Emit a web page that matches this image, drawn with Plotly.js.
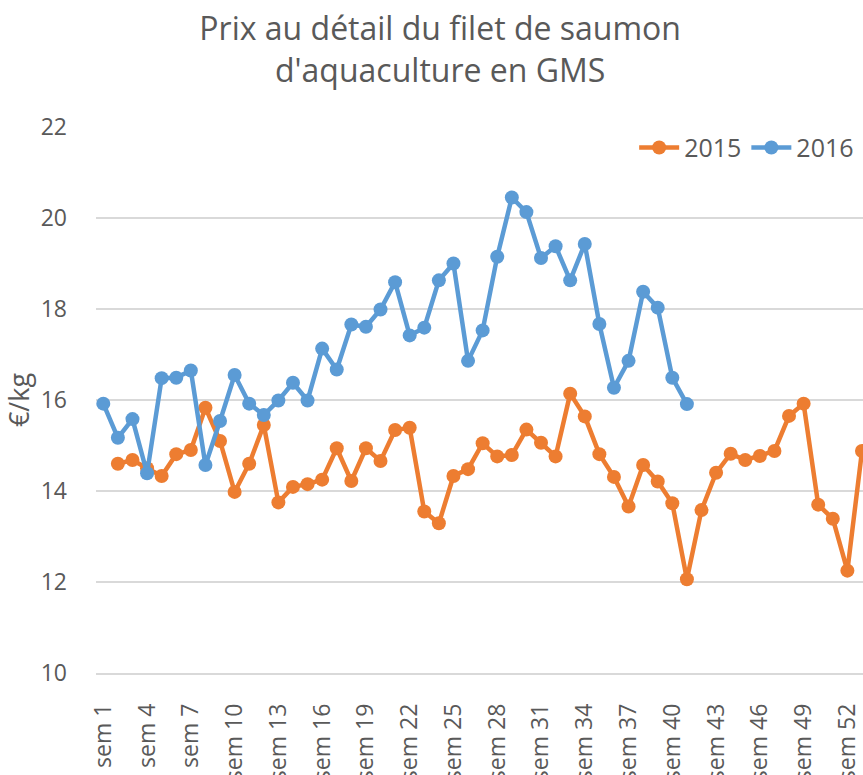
<!DOCTYPE html>
<html>
<head>
<meta charset="utf-8">
<script src="https://cdn.plot.ly/plotly-3.0.1.min.js"></script>
<style>
html,body{margin:0;padding:0;background:#fff;overflow:hidden;}
#chart{width:863px;height:775px;}
</style>
</head>
<body>
<div id="chart"></div>
<script>
const weeks = [];
for (let i = 1; i <= 53; i++) weeks.push('sem ' + i);

const tickLabels = ['sem 1','sem 4','sem 7','sem 10','sem 13','sem 16','sem 19','sem 22','sem 25','sem 28','sem 31','sem 34','sem 37','sem 40','sem 43','sem 46','sem 49','sem 52'];

const prix2015 = [null, 14.60, 14.68, 14.50, 14.33, 14.81, 14.90, 15.83, 15.10, 13.98,
  14.60, 15.45, 13.75, 14.09, 14.15, 14.25, 14.94, 14.22, 14.94, 14.66,
  15.34, 15.39, 13.55, 13.29, 14.33, 14.48, 15.05, 14.76, 14.79, 15.35,
  15.06, 14.76, 16.14, 15.64, 14.81, 14.31, 13.66, 14.57, 14.21, 13.73,
  12.06, 13.58, 14.40, 14.82, 14.68, 14.77, 14.88, 15.65, 15.92, 13.70,
  13.39, 12.25, 14.88];

const prix2016 = [15.92, 15.17, 15.58, 14.39, 16.48, 16.49, 16.65, 14.57, 15.54, 16.55,
  15.92, 15.67, 15.99, 16.38, 15.99, 17.13, 16.67, 17.66, 17.61, 17.99,
  18.59, 17.42, 17.59, 18.63, 19.00, 16.86, 17.53, 19.15, 20.45, 20.13,
  19.12, 19.38, 18.63, 19.43, 17.67, 16.27, 16.86, 18.38, 18.03, 16.49,
  15.91];

const FONT = '"Open Sans", sans-serif';
const GREY = '#595959';

const traces = [
  {
    name: '2015', x: weeks, y: prix2015, type: 'scatter', mode: 'lines+markers',
    line: {color: '#ED7D31', width: 4.5},
    marker: {color: '#ED7D31', size: 14},
    connectgaps: false
  },
  {
    name: '2016', x: weeks.slice(0, prix2016.length), y: prix2016, type: 'scatter', mode: 'lines+markers',
    line: {color: '#5B9BD5', width: 4.5},
    marker: {color: '#5B9BD5', size: 14}
  }
];

const layout = {
  width: 863, height: 775,
  margin: {l: 96, r: 0, t: 127, b: 102},
  paper_bgcolor: '#fff', plot_bgcolor: '#fff',
  font: {family: FONT, color: GREY},
  title: {
    text: 'Prix au détail du filet de saumon<br>d\'aquaculture en GMS',
    font: {family: FONT, size: 32, color: GREY},
    x: 0.51, xanchor: 'center', yref: 'container', y: 0.948, yanchor: 'middle'
  },
  showlegend: true,
  legend: {
    orientation: 'h', x: 0.995, xanchor: 'right', y: 0.962, yanchor: 'middle',
    font: {family: FONT, size: 25, color: GREY},
    bgcolor: 'rgba(0,0,0,0)', traceorder: 'normal', itemwidth: 40
  },
  xaxis: {
    type: 'category',
    range: [-0.5, 52.07],
    tickmode: 'array', tickvals: tickLabels, ticktext: tickLabels,
    tickangle: -90,
    tickfont: {family: FONT, size: 23, color: GREY},
    showgrid: false, zeroline: false,
    showline: true, linecolor: '#d9d9d9', linewidth: 1.5,
    ticks: '', ticklabelstandoff: 20
  },
  yaxis: {
    range: [10, 22], dtick: 2, tick0: 10,
    tickfont: {family: FONT, size: 23, color: GREY},
    showgrid: true, gridcolor: '#d9d9d9', gridwidth: 1.5,
    zeroline: false, showline: false, ticks: '',
    ticklabelstandoff: 28,
    title: {text: '€/kg', font: {family: FONT, size: 27, color: GREY}, standoff: 7}
  }
};

Plotly.newPlot('chart', traces, layout, {displayModeBar: false, staticPlot: true});
</script>
</body>
</html>
